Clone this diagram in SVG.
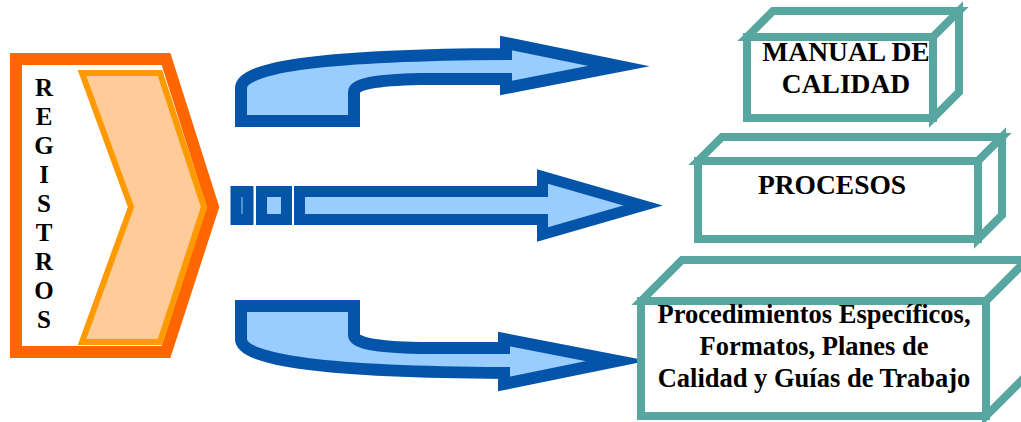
<svg xmlns="http://www.w3.org/2000/svg" width="1021" height="422" viewBox="0 0 1021 422">
  <style>
    .lbl { font-family: "Liberation Serif", "Times New Roman", serif; font-weight: bold; fill: #000; text-anchor: middle; }
    .box { fill: #fff; stroke: #58A6A0; stroke-width: 8; stroke-linejoin: miter; }
    .arr { fill: #99CCFF; stroke: #0455AA; stroke-linejoin: miter; stroke-miterlimit: 10; }
  </style>
  <rect width="1021" height="422" fill="#fff"/>

  <g id="registros">
    <path d="M16,59 L166,59 L213,207 L166,352 L16,352 Z" fill="#fff" stroke="#FF6600" stroke-width="12" stroke-linejoin="miter"/>
    <path d="M82,73 L160,73 L204,207 L160,342 L82,342 L131,207 Z" fill="#FFCC99" stroke="#FF9900" stroke-width="6" stroke-linejoin="miter"/>
    <g class="lbl" font-size="25">
      <text x="44" y="96">R</text>
      <text x="44" y="125">E</text>
      <text x="44" y="154">G</text>
      <text x="44" y="183">I</text>
      <text x="44" y="212">S</text>
      <text x="44" y="241">T</text>
      <text x="44" y="270">R</text>
      <text x="44" y="299">O</text>
      <text x="44" y="328">S</text>
    </g>
  </g>

  <g id="connectors">
    <path class="arr" stroke-width="12" d="M241,121 L241,88 C241,66 330,55 506,54 L506,43 L619,66 L506,88 L506,79 L420,79 C375,80 354,84 354,92 L354,121 Z"/>
    <g stroke-width="11">
      <rect class="arr" x="236" y="191.5" width="12" height="28"/>
      <rect class="arr" x="261.5" y="191.5" width="25" height="28"/>
      <path class="arr" d="M299.5,191.5 L542.5,191.5 L542.5,176.5 L643,205.5 L542.5,234.5 L542.5,219.5 L299.5,219.5 Z"/>
    </g>
    <path class="arr" stroke-width="12" d="M241,306 L241,339 C241,361 330,372 504,373 L504,384 L617,361 L504,339 L504,348 L420,348 C375,347 354,343 354,335 L354,306 Z"/>
  </g>

  <g id="box-manual">
    <rect class="box" x="747" y="37" width="186" height="81"/>
    <path class="box" d="M747,37 L773,11 L959,11 L933,37 Z"/>
    <path class="box" d="M933,37 L959,11 L959,92 L933,118 Z"/>
    <text class="lbl" font-size="27.5" x="846" y="61">MANUAL DE</text>
    <text class="lbl" font-size="27.5" x="846" y="93">CALIDAD</text>
  </g>

  <g id="box-procesos">
    <rect class="box" x="698" y="161" width="280" height="78"/>
    <path class="box" d="M698,161 L722,137 L1002,137 L978,161 Z"/>
    <path class="box" d="M978,161 L1002,137 L1002,215 L978,239 Z"/>
    <text class="lbl" font-size="27.5" x="832" y="194">PROCESOS</text>
  </g>

  <g id="box-procedimientos">
    <rect class="box" x="641" y="301" width="345" height="115"/>
    <path class="box" d="M641,301 L682,260 L1027,260 L986,301 Z"/>
    <path class="box" d="M986,301 L1027,260 L1027,375 L986,416 Z"/>
    <text class="lbl" font-size="26.5" x="814" y="323">Procedimientos Específicos,</text>
    <text class="lbl" font-size="26.5" x="814" y="355">Formatos, Planes de</text>
    <text class="lbl" font-size="26.5" x="814" y="387">Calidad y Guías de Trabajo</text>
  </g>
</svg>
